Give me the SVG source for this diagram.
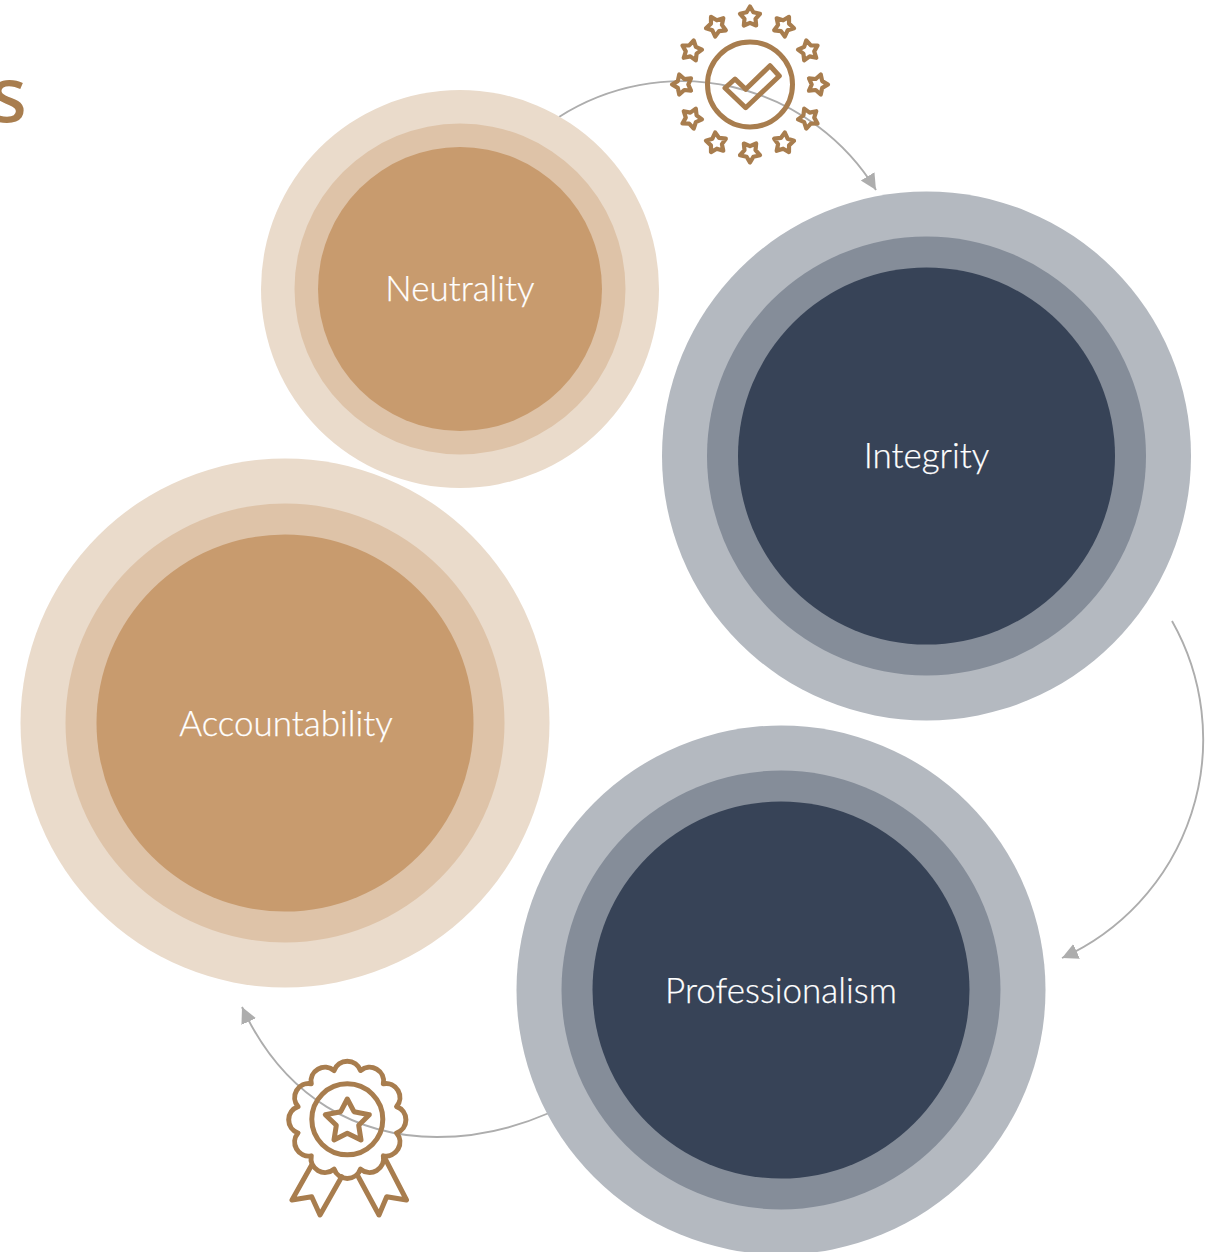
<svg xmlns="http://www.w3.org/2000/svg" xmlns:xlink="http://www.w3.org/1999/xlink" width="1206" height="1252" viewBox="0 0 1206 1252">
<style>
.t1{fill:#EADBCB}.t2{fill:#DEC3A8}.t3{fill:#C89B6E}
.n1{fill:#B4B9C0}.n2{fill:#858D99}.n3{fill:#374357}
.label{font-family:"Lato","Liberation Sans",sans-serif;font-weight:300;font-size:35px;fill:#fff;stroke:#fff;stroke-width:.25;text-anchor:middle}
.conn{fill:none;stroke:#ADADAD;stroke-width:1.9;marker-end:url(#arrow)}
.icon{fill:none;stroke:#A87D4E;stroke-width:5;stroke-linejoin:round;stroke-linecap:round}
.star{stroke-width:4.2}
</style>
<defs>
<marker id="arrow" markerUnits="userSpaceOnUse" markerWidth="17" markerHeight="17" refX="16" refY="8" orient="auto"><path d="M0,0L16,8L0,16Z" fill="#ADADAD"/></marker>
<polygon id="s" class="icon star" points="0,-10.500 3.400,-4.700 10,-3.250 5.500,1.800 6.170,8.500 0,5.800 -6.170,8.500 -5.500,1.800 -10,-3.250 -3.400,-4.700"/>
</defs>
<text id="title" x="-10" y="122" font-family="'Noto Sans','Open Sans',sans-serif" font-weight="500" font-size="76" fill="#A87D4E">s</text>
<g id="connectors">
<path class="conn" d="M559,117A228,228 0 0 1 876,190"/>
<path class="conn" d="M1172,621A240,240 0 0 1 1062,958"/>
<path class="conn" d="M549,1113C510,1130 470,1137 437,1137C360,1137 285,1100 242,1007"/>
</g>
<g id="neutrality"><circle class="t1" cx="460" cy="289" r="199"/><circle class="t2" cx="460" cy="289" r="165.500"/><circle class="t3" cx="460" cy="289" r="142"/><text class="label" x="460" y="301">Neutrality</text></g>
<g id="integrity"><circle class="n1" cx="926.500" cy="456" r="264.500"/><circle class="n2" cx="926.500" cy="456" r="219.500"/><circle class="n3" cx="926.500" cy="456" r="188.500"/><text class="label" x="926.500" y="468">Integrity</text></g>
<g id="professionalism"><circle class="n1" cx="781" cy="990" r="264.500"/><circle class="n2" cx="781" cy="990" r="219.500"/><circle class="n3" cx="781" cy="990" r="188.500"/><text class="label" x="781" y="1003">Professionalism</text></g>
<g id="accountability"><circle class="t1" cx="285" cy="723" r="264.500"/><circle class="t2" cx="285" cy="723" r="219.500"/><circle class="t3" cx="285" cy="723" r="188.500"/><text class="label" x="286" y="736">Accountability</text></g>
<g id="icon-stars">
<circle class="icon" cx="750" cy="84.500" r="42.500"/>
<polygon class="icon" points="725,88 735,79 745.700,89.300 770,65.700 779.300,76 745.700,107.700"/>
<g transform="translate(750,84.500)">
<use xlink:href="#s" href="#s" transform="rotate(0) translate(0,-67.500)"/>
<use xlink:href="#s" href="#s" transform="rotate(30) translate(0,-67.500)"/>
<use xlink:href="#s" href="#s" transform="rotate(60) translate(0,-67.500)"/>
<use xlink:href="#s" href="#s" transform="rotate(90) translate(0,-67.500)"/>
<use xlink:href="#s" href="#s" transform="rotate(120) translate(0,-67.500)"/>
<use xlink:href="#s" href="#s" transform="rotate(150) translate(0,-67.500)"/>
<use xlink:href="#s" href="#s" transform="rotate(180) translate(0,-67.500)"/>
<use xlink:href="#s" href="#s" transform="rotate(210) translate(0,-67.500)"/>
<use xlink:href="#s" href="#s" transform="rotate(240) translate(0,-67.500)"/>
<use xlink:href="#s" href="#s" transform="rotate(270) translate(0,-67.500)"/>
<use xlink:href="#s" href="#s" transform="rotate(300) translate(0,-67.500)"/>
<use xlink:href="#s" href="#s" transform="rotate(330) translate(0,-67.500)"/>
</g>
</g>
<g id="icon-medal">
<path class="icon" transform="translate(347.300,1119.800)" d="M-13.200,-49.260A14,14 0 0 1 13.200,-49.260A14,14 0 0 1 36.060,-36.060A14,14 0 0 1 49.260,-13.200A14,14 0 0 1 49.260,13.200A14,14 0 0 1 36.060,36.060A14,14 0 0 1 13.200,49.260A14,14 0 0 1 -13.200,49.260A14,14 0 0 1 -36.060,36.060A14,14 0 0 1 -49.260,13.200A14,14 0 0 1 -49.260,-13.200A14,14 0 0 1 -36.060,-36.060A14,14 0 0 1 -13.200,-49.260Z"/>
<circle class="icon" cx="347.300" cy="1119.300" r="35.500"/>
<polygon class="icon" points="347.300,1099 354,1111.700 369.300,1114.700 358.700,1125.300 361,1140 347.300,1133.300 334,1140 336.300,1125.300 325.300,1114.700 340.700,1111.700"/>
<polyline class="icon" points="311.700,1165 292,1200 311.700,1196.700 320,1215 341.700,1176.700"/>
<polyline class="icon" points="385,1158.300 406.500,1200 386.700,1196.700 379,1215 358.300,1176.700"/>
</g>
</svg>
